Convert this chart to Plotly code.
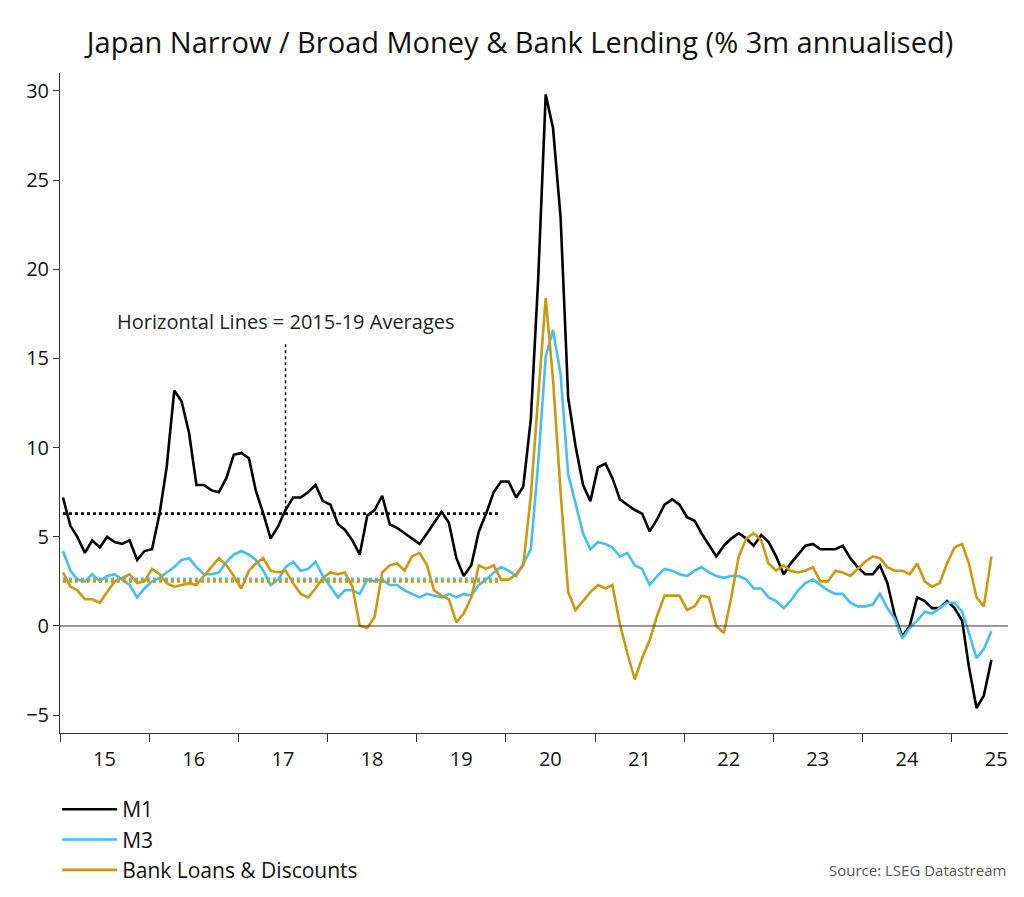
import plotly.graph_objects as go
import pandas as pd

# monthly, Jan 2015 .. Jun 2025
dates = pd.date_range("2015-01-01", periods=126, freq="MS") + pd.Timedelta(days=12)

m1 = [7.2, 5.6, 5.0, 4.1, 4.8, 4.4, 5.0, 4.7, 4.6, 4.8, 3.7, 4.2,
      4.3, 6.3, 8.9, 13.2, 12.6, 10.8, 7.9, 7.9, 7.6, 7.5, 8.3, 9.6,
      9.7, 9.4, 7.6, 6.3, 4.9, 5.6, 6.5, 7.2, 7.2, 7.5, 7.9, 7.0,
      6.8, 5.7, 5.4, 4.8, 4.0, 6.2, 6.5, 7.3, 5.7, 5.5, 5.2, 4.9,
      4.6, 5.2, 5.8, 6.4, 5.8, 3.8, 2.8, 3.4, 5.3, 6.3, 7.5, 8.1,
      8.1, 7.2, 7.8, 11.6, 19.4, 29.8, 27.9, 22.9, 12.8, 10.1, 7.9, 7.0,
      8.9, 9.1, 8.3, 7.1, 6.8, 6.5, 6.3, 5.3, 6.0, 6.8, 7.1, 6.8,
      6.1, 5.9, 5.2, 4.5, 3.9, 4.5, 4.9, 5.2, 4.9, 4.5, 5.1, 4.7,
      3.9, 2.9, 3.5, 4.0, 4.5, 4.6, 4.3, 4.3, 4.3, 4.5, 3.8, 3.3,
      2.9, 2.9, 3.4, 2.4, 0.6, -0.6, 0.0, 1.6, 1.4, 1.0, 1.0, 1.4,
      1.0, 0.3, -2.3, -4.6, -3.9, -1.9]

m3 = [4.2, 3.1, 2.6, 2.5, 2.9, 2.5, 2.8, 2.9, 2.6, 2.3, 1.6, 2.1,
      2.5, 2.7, 3.0, 3.3, 3.7, 3.8, 3.3, 2.9, 2.9, 3.0, 3.6, 4.0,
      4.2, 4.0, 3.7, 3.1, 2.3, 2.6, 3.3, 3.6, 3.1, 3.2, 3.6, 2.8,
      2.2, 1.6, 2.0, 2.0, 1.8, 2.6, 2.5, 2.6, 2.3, 2.3, 2.0, 1.8,
      1.6, 1.8, 1.7, 1.6, 1.8, 1.6, 1.8, 1.7, 2.3, 2.6, 3.0, 3.3,
      3.1, 2.8, 3.5, 4.3, 9.1, 15.1, 16.6, 14.1, 8.5, 6.8, 5.2, 4.3,
      4.7, 4.6, 4.4, 3.9, 4.1, 3.4, 3.2, 2.3, 2.8, 3.2, 3.1, 2.9,
      2.8, 3.1, 3.3, 3.0, 2.8, 2.7, 2.8, 2.8, 2.6, 2.1, 2.1, 1.6,
      1.4, 1.0, 1.4, 2.0, 2.4, 2.6, 2.3, 2.0, 1.8, 1.8, 1.3, 1.1,
      1.1, 1.2, 1.8, 1.0, 0.4, -0.7, -0.1, 0.3, 0.8, 0.7, 1.0, 1.3,
      1.3, 0.8, -0.4, -1.8, -1.3, -0.3]

loans = [3.0, 2.2, 2.0, 1.5, 1.5, 1.3, 1.9, 2.5, 2.7, 2.9, 2.4, 2.5,
         3.2, 2.9, 2.4, 2.2, 2.3, 2.4, 2.3, 2.8, 3.3, 3.8, 3.4, 2.8,
         2.1, 3.1, 3.5, 3.8, 3.1, 3.0, 3.1, 2.4, 1.8, 1.6, 2.1, 2.7,
         3.0, 2.9, 3.0, 2.2, 0.0, -0.1, 0.5, 3.0, 3.4, 3.5, 3.1, 3.9,
         4.1, 3.4, 2.0, 1.7, 1.5, 0.2, 0.7, 1.6, 3.4, 3.2, 3.4, 2.6,
         2.6, 2.9, 3.4, 7.3, 12.8, 18.4, 13.8, 7.5, 1.9, 0.9, 1.4, 1.9,
         2.3, 2.1, 2.3, 0.1, -1.5, -3.0, -1.8, -0.8, 0.6, 1.7, 1.7, 1.7,
         0.9, 1.1, 1.7, 1.6, 0.0, -0.4, 1.6, 3.9, 4.9, 5.2, 4.8, 3.5,
         3.1, 3.4, 3.1, 3.0, 3.1, 3.3, 2.5, 2.5, 3.1, 3.0, 2.8, 3.2,
         3.6, 3.9, 3.8, 3.3, 3.1, 3.1, 2.9, 3.5, 2.5, 2.2, 2.4, 3.5,
         4.4, 4.6, 3.5, 1.6, 1.1, 3.9]

# 2015-19 averages
avg_m1 = 6.3
avg_m3 = 2.65
avg_loans = 2.5
avg_span = ["2015-01-13", "2019-12-13"]

BLACK = "#000000"
BLUE = "#42bff5"
GOLD = "#cf960e"

fig = go.Figure()
for name, ys, col in [("M1", m1, BLACK), ("M3", m3, BLUE), ("Bank Loans & Discounts", loans, GOLD)]:
    fig.add_trace(go.Scatter(x=dates, y=ys, name=name, mode="lines",
                             line=dict(color=col, width=2.6)))

for avg, col in [(avg_m3, BLUE), (avg_loans, GOLD), (avg_m1, BLACK)]:
    fig.add_trace(go.Scatter(x=avg_span, y=[avg, avg], mode="lines", showlegend=False,
                             line=dict(color=col, width=2.6, dash="dot")))

# pointer from annotation down to the M1 average
fig.add_trace(go.Scatter(x=["2017-07-13", "2017-07-13"], y=[15.8, avg_m1], mode="lines",
                         showlegend=False, line=dict(color=BLACK, width=1.5, dash="dot")))

fig.add_hline(y=0, line=dict(color="#333333", width=1))

fig.add_annotation(x="2017-07-13", y=16.2, text="Horizontal Lines = 2015-19 Averages",
                   showarrow=False, yanchor="bottom", font=dict(size=20, color="#222222"))
fig.add_annotation(x=1.0, y=-0.225, xref="paper", yref="paper", xanchor="right",
                   text="Source: LSEG Datastream", showarrow=False,
                   font=dict(size=15, color="#555555"))

fig.update_layout(
    width=1024, height=897,
    paper_bgcolor="white", plot_bgcolor="white",
    font=dict(family="Open Sans", color="#222222"),
    title=dict(text="Japan Narrow / Broad Money & Bank Lending (% 3m annualised)",
               x=0.5, xanchor="center", y=0.972, font=dict(size=29, color="#111111")),
    margin=dict(l=52, r=24, t=65, b=172),
    showlegend=True,
    legend=dict(x=-0.003, y=-0.085, xanchor="left", yanchor="top",
                font=dict(size=21, color="#111111"), tracegroupgap=0,
                itemwidth=55, bgcolor="rgba(0,0,0,0)"),
    xaxis=dict(type="date", range=["2015-01-01", "2025-08-20"], automargin=False,
               dtick="M12", tick0="2015-01-01", tickformat="%y",
               ticklabelmode="period", ticks="outside", ticklen=8,
               tickcolor="#333333", showline=True, linecolor="#333333",
               showgrid=False, zeroline=False,
               tickfont=dict(size=20, color="#111111")),
    yaxis=dict(range=[-6, 31], dtick=5, ticks="outside", ticklen=6, automargin=False,
               tickcolor="#333333", showline=True, linecolor="#333333",
               showgrid=False, zeroline=False,
               tickfont=dict(size=20, color="#111111")),
)

fig.write_html("out.html")
